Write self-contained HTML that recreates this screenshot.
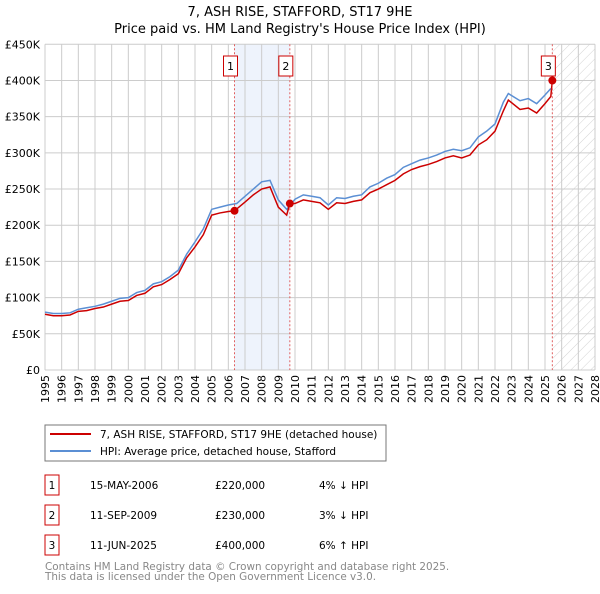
<!DOCTYPE html>
<html><head><meta charset="utf-8"><style>
body{margin:0;background:#fff;font-family:"DejaVu Sans","Liberation Sans",sans-serif;}
svg text{font-family:"DejaVu Sans","Liberation Sans",sans-serif;}
</style></head><body>
<svg id="c" width="600" height="590" xmlns="http://www.w3.org/2000/svg">
<defs><pattern id="hatch" width="7" height="7" patternUnits="userSpaceOnUse" patternTransform="rotate(45)"><line x1="0" y1="0" x2="0" y2="7" stroke="#d4d4d4" stroke-width="1"/></pattern></defs>
<text x="300" y="16" text-anchor="middle" font-size="13">7, ASH RISE, STAFFORD, ST17 9HE</text>
<text x="300" y="33" text-anchor="middle" font-size="13">Price paid vs. HM Land Registry's House Price Index (HPI)</text>
<g id="grid"></g><g id="marks"></g><g id="axes"></g>
<rect x="45" y="425" width="341" height="36" fill="#fff" stroke="#777"/>
<line x1="50" y1="434" x2="91" y2="434" stroke="#cc0000" stroke-width="2"/>
<text x="100" y="438" font-size="10.5">7, ASH RISE, STAFFORD, ST17 9HE (detached house)</text>
<line x1="50" y1="451" x2="91" y2="451" stroke="#5b8fd4" stroke-width="2"/>
<text x="100" y="455" font-size="10.5">HPI: Average price, detached house, Stafford</text>
<g id="table" font-size="10.5"></g>
<text x="45" y="570" font-size="10.4" fill="#888">Contains HM Land Registry data © Crown copyright and database right 2025.</text>
<text x="45" y="580" font-size="10.4" fill="#888">This data is licensed under the Open Government Licence v3.0.</text>
</svg>
<script>
const hpiYears=[1995,1995.5,1996,1996.5,1997,1997.5,1998,1998.5,1999,1999.5,2000,2000.5,2001,2001.5,2002,2002.5,2003,2003.5,2004,2004.5,2005,2005.5,2006,2006.5,2007,2007.5,2008,2008.5,2009,2009.5,2010,2010.5,2011,2011.5,2012,2012.5,2013,2013.5,2014,2014.5,2015,2015.5,2016,2016.5,2017,2017.5,2018,2018.5,2019,2019.5,2020,2020.5,2021,2021.5,2022,2022.5,2022.8,2023.5,2024,2024.5,2025,2025.35];
const hpiValues=[80,78,78,79,84,86,88,91,95,99,100,107,110,119,122,129,138,160,177,195,222,225,228,230,240,250,260,262,235,222,236,242,240,238,228,238,237,240,242,253,258,265,270,280,285,290,293,297,302,305,303,307,322,330,340,370,382,372,375,368,380,389];
const ppYears=[1995,1995.5,1996,1996.5,1997,1997.5,1998,1998.5,1999,1999.5,2000,2000.5,2001,2001.5,2002,2002.5,2003,2003.5,2004,2004.5,2005,2005.5,2006,2006.37,2007,2007.5,2008,2008.5,2009,2009.5,2009.69,2010,2010.5,2011,2011.5,2012,2012.5,2013,2013.5,2014,2014.5,2015,2015.5,2016,2016.5,2017,2017.5,2018,2018.5,2019,2019.5,2020,2020.5,2021,2021.5,2022,2022.5,2022.8,2023.5,2024,2024.5,2025,2025.35,2025.44];
const ppValues=[77,75,75,76,81,82,85,87,91,95,96,103,106,115,118,125,133,155,170,187,214,217,219,220,232,242,250,253,225,214,230,230,235,233,231,222,231,230,233,235,245,250,256,262,271,277,281,284,288,293,296,293,297,311,318,330,358,373,360,362,355,368,378,400];
const sales=[{n:'1',x:2006.37,v:220,d:'15-MAY-2006',p:'£220,000',h:'4% ↓ HPI'},{n:'2',x:2009.69,v:230,d:'11-SEP-2009',p:'£230,000',h:'3% ↓ HPI'},{n:'3',x:2025.44,v:400,d:'11-JUN-2025',p:'£400,000',h:'6% ↑ HPI'}];
const yTicks=[0,50,100,150,200,250,300,350,400,450];
const yLabels=['£0','£50K','£100K','£150K','£200K','£250K','£300K','£350K','£400K','£450K'];
const x0=45,x1=595,y0=370,y1=44.3;
const X=t=>x0+(t-1995)*(x1-x0)/33;
const Y=v=>y0-v*(y0-y1)/450;
const NS='http://www.w3.org/2000/svg';
function mk(parent,tag,attrs){const e=document.createElementNS(NS,tag);for(const k in attrs)e.setAttribute(k,attrs[k]);parent.appendChild(e);return e;}
const grid=document.getElementById('grid'),marks=document.getElementById('marks'),axes=document.getElementById('axes'),table=document.getElementById('table');
let r=mk(grid,'rect',{x:X(sales[0].x),y:y1,width:X(sales[1].x)-X(sales[0].x),height:y0-y1,fill:'#eef3fc'});


r=mk(grid,'rect',{x:X(sales[2].x),y:y1,width:x1-X(sales[2].x),height:y0-y1,fill:'url(#hatch)'});


for(let yr=1995;yr<=2028;yr++){
 const l=mk(grid,'line',{x1:X(yr),x2:X(yr),y1:y1,y2:y0,stroke:'#ccc','stroke-width':1});
 
 
 const t=mk(axes,'text',{x:0,y:0,'font-size':11,'text-anchor':'end',transform:`translate(${X(yr)+4},${y0+5}) rotate(-90)`});
 t.textContent=yr;
 
 
}
yTicks.forEach((v,i)=>{
 const l=mk(grid,'line',{x1:x0,x2:x1,y1:Y(v),y2:Y(v),stroke:'#ccc','stroke-width':1});
 
 
 const t=mk(axes,'text',{x:40,y:Y(v)+4,'font-size':11,'text-anchor':'end'});
 t.textContent=yLabels[i];
 
 
});
const hp=mk(marks,'polyline',{points:hpiYears.map((t,i)=>X(t)+','+Y(hpiValues[i])).join(' '),fill:'none',stroke:'#5b8fd4','stroke-width':1.5});


const pp=mk(marks,'polyline',{points:ppYears.map((t,i)=>X(t)+','+Y(ppValues[i])).join(' '),fill:'none',stroke:'#cc0000','stroke-width':1.5});


sales.forEach((s,i)=>{
 const l=mk(marks,'line',{x1:X(s.x),x2:X(s.x),y1:y1,y2:y0,stroke:'#e06060','stroke-width':1,'stroke-dasharray':'2,2'});
 
 
 const c=mk(marks,'circle',{cx:X(s.x),cy:Y(s.v),r:4,fill:'#cc0000'});
 
 
 const bx=X(s.x)-11;
 const b=mk(marks,'rect',{x:bx,y:56,width:14,height:20,fill:'#fff',stroke:'#cc0000'});
 
 
 const t=mk(marks,'text',{x:bx+7,y:70,'font-size':11,'text-anchor':'middle'});
 t.textContent=s.n;
 
 
 const ry=475+i*30;
 const rb=mk(table,'rect',{x:45,y:ry,width:14,height:20,fill:'#fff',stroke:'#cc0000'});
 
 
 [[52,s.n,'middle'],[90,s.d,'start'],[215,s.p,'start'],[319,s.h,'start']].forEach(([x,txt,a])=>{
  const tt=mk(table,'text',{x:x,y:ry+14,'text-anchor':a});
  tt.textContent=txt;
  
  
 });
});
</script>
</body></html>
